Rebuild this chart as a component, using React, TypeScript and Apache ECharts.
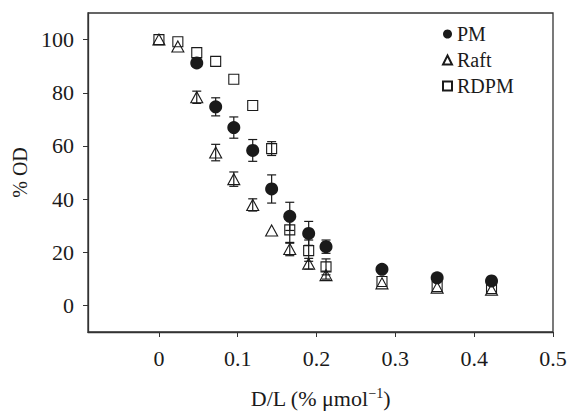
import React, { useEffect, useRef } from "react";
import * as echarts from "echarts";

const xValues = [0, 0.024, 0.048, 0.072, 0.095, 0.119, 0.143, 0.166, 0.19, 0.212, 0.283, 0.353, 0.422];
const pmValues = [null, null, 91.2, 74.7, 66.9, 58.3, 43.8, 33.5, 27.1, 22.1, 13.6, 10.4, 9.2];
const pmErrors = [0, 0, 1.2, 3.4, 4.0, 4.1, 5.3, 5.3, 4.5, 2.5, 0, 0, 0];
const raftValues = [100, 97.4, 78.3, 57.5, 47.5, 37.8, 28.2, 21.2, 15.7, 11.4, 8.3, 6.7, 5.9];
const raftErrors = [0, 0, 2.3, 3.1, 2.7, 2.3, 0, 2.5, 2, 1.5, 0, 0, 0];
const rdpmValues = [100, 99.2, 95.1, 91.8, 85.1, 75.2, 59.0, 28.4, 20.6, 14.5, 9.0, 7.1, 6.3];
const rdpmErrors = [0, 0, 0, 0, 0, 0, 2.6, 5, 4, 3, 0, 0, 0];
const xTicks = [0, 0.1, 0.2, 0.3, 0.4, 0.5];
const yTicks = [0, 20, 40, 60, 80, 100];

const FONT = "Liberation Serif";
const INK = "#1a1a1a";

function points(vals: (number | null)[]) {
  const out: number[][] = [];
  vals.forEach((v, i) => {
    if (v !== null) out.push([xValues[i], v]);
  });
  return out;
}

function errPoints(vals: (number | null)[], errs: number[]) {
  const out: number[][] = [];
  vals.forEach((v, i) => {
    if (v !== null && errs[i] > 0) out.push([xValues[i], v, errs[i]]);
  });
  return out;
}

function errorSeries(vals: (number | null)[], errs: number[]) {
  return {
    type: "custom",
    silent: true,
    z: 1,
    data: errPoints(vals, errs),
    renderItem: (params: any, api: any) => {
      const x = api.value(0);
      const y = api.value(1);
      const e = api.value(2);
      const top = api.coord([x, y + e]);
      const bot = api.coord([x, y - e]);
      const w = 4.5;
      const style = { stroke: INK, lineWidth: 1.2 };
      return {
        type: "group",
        children: [
          { type: "line", shape: { x1: top[0], y1: top[1], x2: bot[0], y2: bot[1] }, style },
          { type: "line", shape: { x1: top[0] - w, y1: top[1], x2: top[0] + w, y2: top[1] }, style },
          { type: "line", shape: { x1: bot[0] - w, y1: bot[1], x2: bot[0] + w, y2: bot[1] }, style },
        ],
      };
    },
  };
}

export default function App() {
  const ref = useRef<HTMLDivElement>(null);
  useEffect(() => {
    if (!ref.current) return;
    const chart = echarts.init(ref.current, null, { renderer: "svg" });
    chart.setOption({
      animation: false,
      backgroundColor: "#ffffff",
      textStyle: { fontFamily: FONT },
      grid: {
        left: 88,
        right: 24,
        top: 13,
        bottom: 77,
        show: true,
        borderColor: "#333",
        borderWidth: 1.3,
        containLabel: false,
      },
      legend: {
        orient: "vertical",
        left: 437,
        top: 19,
        itemWidth: 9,
        itemHeight: 9,
        itemGap: 6,
        data: ["PM", "Raft", "RDPM"],
        textStyle: { fontFamily: FONT, fontSize: 20, color: INK },
      },
      xAxis: {
        type: "value",
        min: -0.09,
        max: 0.5,
        name: "D/L (% μmol{sup|−1})",
        nameLocation: "middle",
        nameGap: 54,
        nameTextStyle: {
          fontFamily: FONT,
          fontSize: 22,
          color: INK,
          lineHeight: 24,
          rich: {
            sup: { fontFamily: FONT, fontSize: 14, color: INK, verticalAlign: "top", lineHeight: 12 },
          },
        },
        axisLine: { show: true, onZero: false, lineStyle: { color: "#333", width: 1.3 } },
        axisTick: {
          show: true,
          inside: false,
          length: 5,
          customValues: xTicks,
          lineStyle: { color: "#333", width: 1 },
        },
        axisLabel: {
          customValues: xTicks,
          margin: 15,
          fontFamily: FONT,
          fontSize: 22,
          color: INK,
          formatter: (v: number) => (v === 0 ? "0" : v.toFixed(1)),
        },
        splitLine: { show: false },
      },
      yAxis: {
        type: "value",
        min: -10,
        max: 110,
        name: "% OD",
        nameLocation: "middle",
        nameGap: 45,
        nameRotate: 90,
        nameTextStyle: { fontFamily: FONT, fontSize: 20, color: INK },
        axisLine: { show: true, onZero: false, lineStyle: { color: "#333", width: 1.3 } },
        axisTick: {
          show: true,
          inside: false,
          length: 5,
          customValues: yTicks,
          lineStyle: { color: "#333", width: 1 },
        },
        axisLabel: {
          customValues: yTicks,
          margin: 14,
          fontFamily: FONT,
          fontSize: 22,
          color: INK,
        },
        splitLine: { show: false },
      },
      series: [
        errorSeries(pmValues, pmErrors),
        errorSeries(raftValues, raftErrors),
        errorSeries(rdpmValues, rdpmErrors),
        {
          name: "RDPM",
          type: "scatter",
          z: 3,
          symbol: "rect",
          symbolSize: 10,
          data: points(rdpmValues),
          itemStyle: { color: "rgba(255,255,255,0)", borderColor: INK, borderWidth: 1.1, opacity: 1 },
          emphasis: { disabled: true },
        },
        {
          name: "Raft",
          type: "scatter",
          z: 4,
          symbol: "triangle",
          symbolSize: [12, 11],
          data: points(raftValues),
          itemStyle: { color: "rgba(255,255,255,0)", borderColor: INK, borderWidth: 1.1, opacity: 1 },
          emphasis: { disabled: true },
        },
        {
          name: "PM",
          type: "scatter",
          z: 5,
          symbol: "circle",
          symbolSize: 13,
          data: points(pmValues),
          itemStyle: { color: INK, borderWidth: 0, opacity: 1 },
          emphasis: { disabled: true },
        },
      ],
    });
    return () => chart.dispose();
  }, []);
  return (
    <div
      ref={ref}
      style={{ position: "fixed", left: 0, top: 0, width: 577, height: 415 }}
    />
  );
}
